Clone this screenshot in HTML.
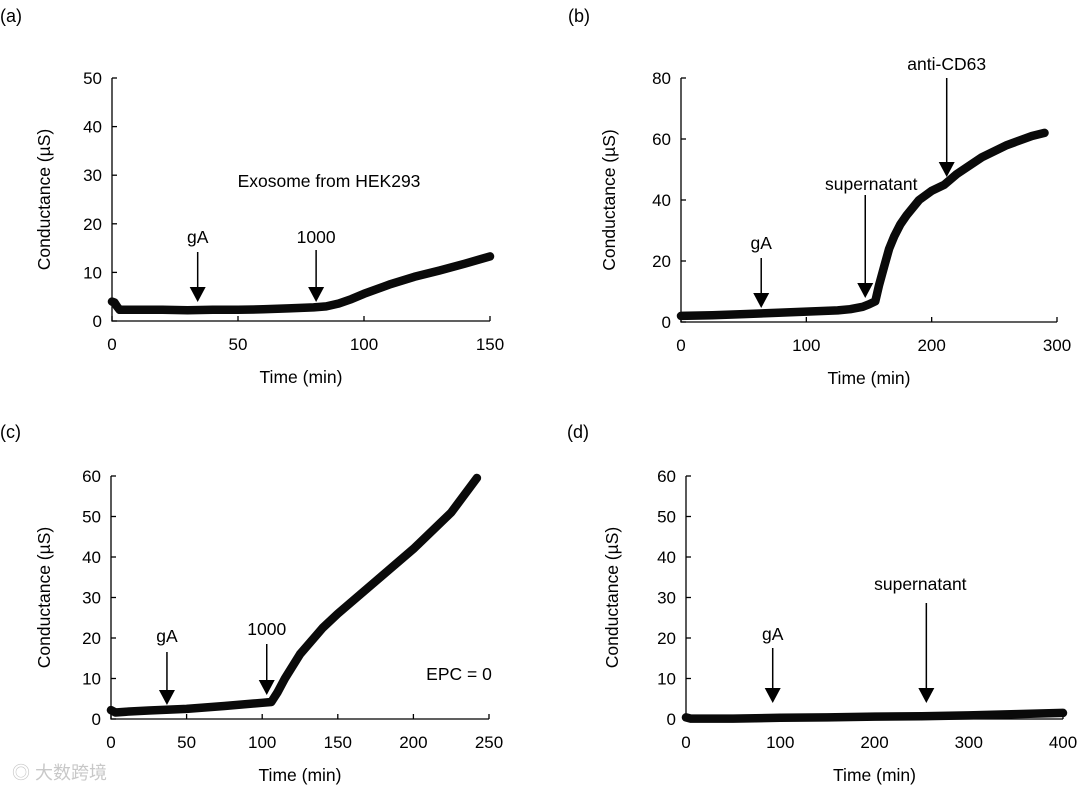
<!DOCTYPE html>
<html><head><meta charset="utf-8"><style>
body{margin:0;background:#fff;}
svg{display:block;font-family:"Liberation Sans",Arial,sans-serif;}
</style></head><body>
<svg id="fig" width="1080" height="791"></svg>
<script>
// Panel data (time in min, conductance in µS)
const aTime=[0,1,2,3,10,20,30,40,50,60,70,80,85,90,95,100,110,120,130,140,150];
const aVal=[4,3.8,3,2.3,2.3,2.3,2.2,2.3,2.3,2.4,2.6,2.8,3,3.6,4.5,5.6,7.5,9.1,10.4,11.8,13.3];
const bTime=[0,25,50,75,100,125,135,145,150,155,158,162,166,170,175,180,190,200,210,220,240,260,280,290];
const bVal=[2,2.2,2.6,3,3.4,3.8,4.2,5,5.8,6.8,12,18,24,28,32,35,40,43,45,48.5,54,58,61,62];
const cTime=[0,3,10,25,50,75,100,106,110,115,125,140,150,175,200,225,242];
const cVal=[2.2,1.6,1.8,2.1,2.5,3.2,4,4.2,6.5,10,16,22.5,26,34,42,51,59.5];
const dTime=[0,5,50,100,150,200,250,300,350,400];
const dVal=[0.4,0.1,0.1,0.3,0.4,0.6,0.7,0.9,1.2,1.5];
const aXTicks=[0,50,100,150], aYTicks=[0,10,20,30,40,50];
const bXTicks=[0,100,200,300], bYTicks=[0,20,40,60,80];
const cXTicks=[0,50,100,150,200,250], cYTicks=[0,10,20,30,40,50,60];
const dXTicks=[0,100,200,300,400], dYTicks=[0,10,20,30,40,50,60];
const aArrows=[{t:34,label:"gA",top:252,tip:302,ly:243},{t:81,label:"1000",top:250,tip:302,ly:243}];
const bArrows=[{t:64,label:"gA",top:258,tip:308,ly:249},{t:147,label:"supernatant",top:195,tip:298,ly:190,dx:6},{t:212,label:"anti-CD63",top:78,tip:177,ly:70}];
const cArrows=[{t:37,label:"gA",top:652,tip:705,ly:642},{t:103,label:"1000",top:644,tip:695,ly:635}];
const dArrows=[{t:92,label:"gA",top:648,tip:703,ly:640},{t:255,label:"supernatant",top:603,tip:703,ly:590,dx:-6}];

const NS="http://www.w3.org/2000/svg";
const svg=document.getElementById('fig');
function mk(tag,attrs,parent){const e=document.createElementNS(NS,tag);for(const k in attrs)e.setAttribute(k,attrs[k]);(parent||svg).appendChild(e);return e;}

function panel(o){
  const g=mk('g',{});
  
  
  const xs=t=>o.x0+(t-o.xmin)/(o.xmax-o.xmin)*(o.x1-o.x0);
  const ys=v=>o.y0-(v-o.ymin)/(o.ymax-o.ymin)*(o.y0-o.y1);
  const lbl=mk('text',{x:o.px,y:o.py,'font-size':18},g);lbl.textContent='('+o.id+')';
  
  
  const ax=mk('path',{d:`M${o.x0},${o.y1}V${o.y0}H${o.x1}`,stroke:'#000','stroke-width':1.3,fill:'none'},g);
  
  
  o.yt.forEach(v=>{
    mk('line',{x1:o.x0,x2:o.x0+5,y1:ys(v),y2:ys(v),stroke:'#000','stroke-width':1.3},g);
    const t=mk('text',{x:o.x0-10,y:ys(v)+6,'font-size':17,'text-anchor':'end'},g);t.textContent=v;
    
    
  });
  o.xt.forEach(v=>{
    mk('line',{x1:xs(v),x2:xs(v),y1:o.y0,y2:o.y0-5,stroke:'#000','stroke-width':1.3},g);
    const t=mk('text',{x:xs(v),y:o.y0+29,'font-size':17,'text-anchor':'middle'},g);t.textContent=v;
    
    
  });
  const xt=mk('text',{x:(o.x0+o.x1)/2,y:o.y0+62,'font-size':17.5,'text-anchor':'middle'},g);xt.textContent='Time (min)';
  
  
  const yc=(o.y0+o.y1)/2;
  const yt=mk('text',{x:o.ytx,y:yc,'font-size':17.5,'text-anchor':'middle',transform:`rotate(-90 ${o.ytx} ${yc})`},g);yt.textContent='Conductance (µS)';
  
  
  const d=o.t.map((t,i)=>(i?'L':'M')+xs(t).toFixed(1)+','+ys(o.v[i]).toFixed(1)).join('');
  const s=mk('path',{d:d,stroke:'#0a0a0a','stroke-width':8.5,fill:'none','stroke-linecap':'round','stroke-linejoin':'round'},g);
  
  
  o.arrows.forEach(a=>{
    const x=xs(a.t);
    const ar=mk('g',{},g);
    
    
    mk('line',{x1:x,x2:x,y1:a.top,y2:a.tip-12,stroke:'#000','stroke-width':1.5},ar);
    mk('path',{d:`M${x-8},${a.tip-15}L${x+8},${a.tip-15}L${x},${a.tip}Z`,fill:'#000'},ar);
    const t=mk('text',{x:x+(a.dx||0),y:a.ly,'font-size':17.5,'text-anchor':'middle'},ar);t.textContent=a.label;
  });
  (o.notes||[]).forEach(n=>{
    const t=mk('text',{x:n.x,y:n.y,'font-size':17.5,'text-anchor':'middle'},g);t.textContent=n.text;
    
    
  });
}
panel({id:'a',px:0,py:22,x0:112,x1:490,y0:321,y1:78,xmin:0,xmax:150,ymin:0,ymax:50,xt:aXTicks,yt:aYTicks,t:aTime,v:aVal,arrows:aArrows,ytx:50,notes:[{x:329,y:187,text:'Exosome from HEK293'}]});
panel({id:'b',px:568,py:22,x0:681,x1:1057,y0:322,y1:78,xmin:0,xmax:300,ymin:0,ymax:80,xt:bXTicks,yt:bYTicks,t:bTime,v:bVal,arrows:bArrows,ytx:615});
panel({id:'c',px:0,py:438,x0:111,x1:489,y0:719,y1:476,xmin:0,xmax:250,ymin:0,ymax:60,xt:cXTicks,yt:cYTicks,t:cTime,v:cVal,arrows:cArrows,ytx:50,notes:[{x:459,y:680,text:'EPC = 0'}]});
panel({id:'d',px:567,py:438,x0:686,x1:1063,y0:719,y1:476,xmin:0,xmax:400,ymin:0,ymax:60,xt:dXTicks,yt:dYTicks,t:dTime,v:dVal,arrows:dArrows,ytx:618});
const wm=mk('text',{x:12,y:779,'font-size':18,fill:'#c8c8c8','font-family':'"Liberation Sans","Noto Sans CJK SC",sans-serif'});
wm.textContent='◎ 大数跨境';


</script>
</body></html>
